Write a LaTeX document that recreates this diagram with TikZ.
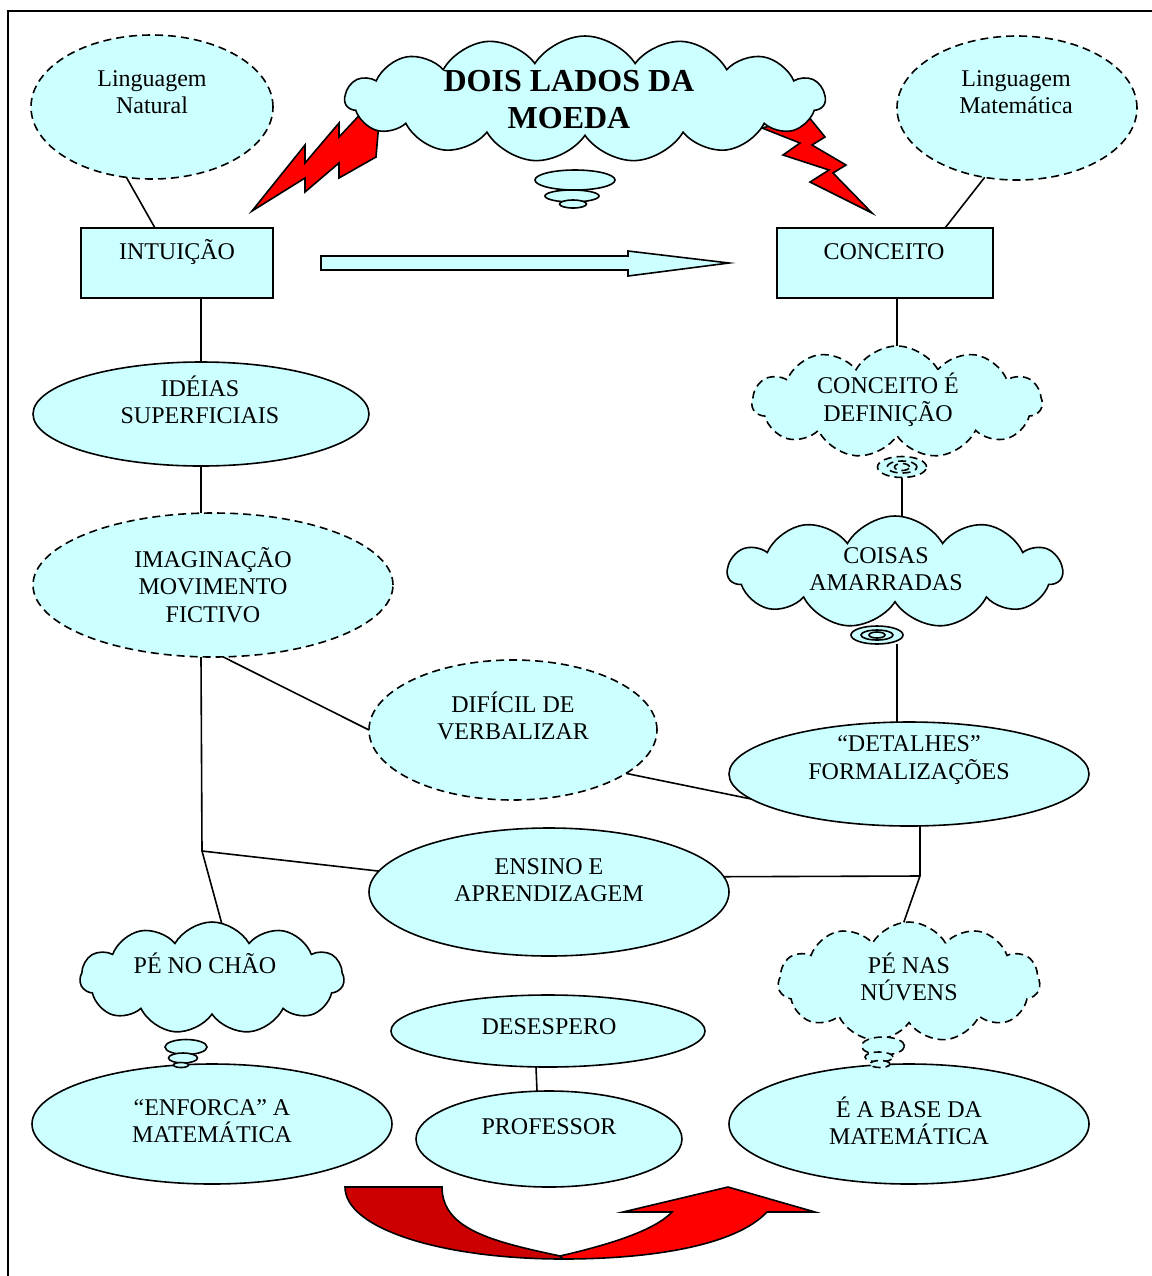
\documentclass[tikz,border=0pt]{standalone}
\usepackage{fontspec}
\setmainfont{Liberation Serif}
\usetikzlibrary{shapes.geometric,shapes.symbols}
\definecolor{cianoclaro}{HTML}{CCFFFF}
\definecolor{vermelhoescuro}{HTML}{CC0000}
\tikzset{
  fundo/.style={fill=cianoclaro, draw=black, line width=0.8pt},
  elipse/.style={fundo, ellipse, inner sep=0pt, outer sep=0pt},
  caixa/.style={fundo, rectangle, inner sep=0pt, outer sep=0pt},
  nuvem/.style={fundo, cloud, cloud puffs=11, cloud puff arc=120, cloud ignores aspect, inner sep=0pt, outer sep=0pt},
  bolha/.style={fundo, ellipse, inner sep=0pt, outer sep=0pt},
  tracejado/.style={dash pattern=on 4pt off 2.5pt},
  texto/.style={align=center, inner sep=0pt, font=\fontsize{12}{13.8}\selectfont},
  ligacao/.style={draw=black, line width=0.8pt},
  raio/.style={fill=red, draw=black, line width=0.8pt, line join=miter}
}
\begin{document}
\begin{tikzpicture}[x=0.5pt,y=-0.5pt]
  \useasboundingbox (0,0) rectangle (1152,1276);
  \draw[line width=1pt] (8,1276) -- (8,11) -- (1152,11);
  % raios
  \draw[raio] (252,211) -- (305,145) -- (305,163) -- (339,123) -- (339,137) -- (368,106) -- (380,110)
    -- (376,157) -- (339,178) -- (339,163) -- (305,192) -- (305,178) -- cycle;
  \draw[raio] (762,128) -- (808,116) -- (825,137) -- (812,145) -- (846,165) -- (833,173) -- (872,213)
    -- (810,182) -- (829,170) -- (783,155) -- (800,143) -- cycle;
  % nuvem do titulo
  \node[nuvem, cloud puffs=15, cloud puff arc=115, minimum width=240pt, minimum height=63pt] (moeda) at (585,99) {};
  \foreach \x/\y/\w/\h [count=\i] in {575/180/40/10, 572/196/27/6, 573/204/13.5/4}
    {\node[bolha, minimum width=\w pt, minimum height=\h pt] (moeda-b\i) at (\x,\y) {};}
  \node[texto, font=\fontsize{16}{18.5}\selectfont\bfseries] (moeda-t) at (569,100) {DOIS LADOS DA\\MOEDA};
  % linguagens
  \node[elipse, tracejado, minimum width=121pt, minimum height=72pt] (natE) at (152,107) {};
  \node[texto] (natE-t) at (152,92) {Linguagem\\Natural};
  \node[elipse, tracejado, minimum width=120pt, minimum height=72pt] (matE) at (1017,108) {};
  \node[texto] (matE-t) at (1016,92) {Linguagem\\Matemática};
  % caixas
  \node[caixa, minimum width=96pt, minimum height=35pt] (intu) at (177,263) {};
  \node[texto] (intu-t) at (177,252) {INTUIÇÃO};
  \node[caixa, minimum width=108pt, minimum height=35pt] (conc) at (885,263) {};
  \node[texto] (conc-t) at (884,252) {CONCEITO};
  \draw[fundo] (321,256) -- (628,256) -- (628,251) -- (729,263) -- (628,276) -- (628,270) -- (321,270) -- cycle;
  % lado esquerdo
  \node[elipse, minimum width=168pt, minimum height=52pt] (ideias) at (201,414) {};
  \node[texto] (ideias-t) at (200,400) {IDÉIAS\\SUPERFICIAIS};
  \node[elipse, tracejado, minimum width=180pt, minimum height=72pt] (imag) at (213,585) {};
  \node[texto] (imag-t) at (213,585) {IMAGINAÇÃO\\MOVIMENTO\\FICTIVO};
  \node[elipse, tracejado, minimum width=144pt, minimum height=70pt] (dific) at (513,730) {};
  \node[texto] (dific-t) at (513,716) {DIFÍCIL DE\\VERBALIZAR};
  % lado direito
  \node[nuvem, tracejado, minimum width=145pt, minimum height=56pt] (defin) at (897,402) {};
  \foreach \w/\h [count=\i] in {24.5/10.5, 15/6, 7.5/3.5}
    {\node[bolha, tracejado, minimum width=\w pt, minimum height=\h pt] (defin-b\i) at (902,467) {};}
  \node[texto] (defin-t) at (888,400) {CONCEITO É\\DEFINIÇÃO};
  \node[nuvem, minimum width=167pt, minimum height=56pt] (coisas) at (895,572) {};
  \foreach \w/\h [count=\i] in {26/9, 16/5, 8/3}
    {\node[bolha, minimum width=\w pt, minimum height=\h pt] (coisas-b\i) at (877,635) {};}
  \node[texto] (coisas-t) at (886,569) {COISAS\\AMARRADAS};
  \node[elipse, minimum width=180pt, minimum height=52pt] (detal) at (909,774) {};
  \node[texto] (detal-t) at (909,760) {“DETALHES”\\FORMALIZAÇÕES};
  % centro
  \node[elipse, minimum width=180pt, minimum height=64pt] (ensino) at (549,892) {};
  \node[texto] (ensino-t) at (549,880) {ENSINO E\\APRENDIZAGEM};
  \node[elipse, minimum width=157pt, minimum height=36pt] (desesp) at (548,1031) {};
  \node[texto] (desesp-t) at (549,1027) {DESESPERO};
  \node[elipse, minimum width=133pt, minimum height=48pt] (profes) at (549,1139) {};
  \node[texto] (profes-t) at (549,1127) {PROFESSOR};
  % base
  \node[elipse, minimum width=180pt, minimum height=60pt] (enforca) at (212,1124) {};
  \node[texto] (enforca-t) at (212,1121) {“ENFORCA” A\\MATEMÁTICA};
  \node[elipse, minimum width=180pt, minimum height=60pt] (base) at (909,1124) {};
  \node[texto] (base-t) at (909,1121) {É A BASE DA\\MATEMÁTICA};
  % pes
  \node[nuvem, minimum width=132pt, minimum height=56pt] (chao) at (212,978) {};
  \foreach \x/\y/\w/\h [count=\i] in {186/1047/21/7.5, 183/1058/14.5/5, 181/1065/7.5/2.5}
    {\node[bolha, minimum width=\w pt, minimum height=\h pt] (chao-b\i) at (\x,\y) {};}
  \node[texto] (chao-t) at (205,963) {PÉ NO CHÃO};
  \node[nuvem, tracejado, minimum width=131pt, minimum height=60pt] (nuvens) at (909,982) {};
  \foreach \x/\y/\w/\h [count=\i] in {883/1046/21.5/9, 879/1057/14/5, 880/1064/10/3.5}
    {\node[bolha, tracejado, minimum width=\w pt, minimum height=\h pt] (nuvens-b\i) at (\x,\y) {};}
  \node[texto] (nuvens-t) at (909,977) {PÉ NAS\\NÚVENS};
  % seta em U
  \draw[fill=vermelhoescuro, line width=0.8pt] (345,1187) -- (442,1187) .. controls (442,1230) and (495,1242) .. (560,1256)
    -- (563,1259) .. controls (443,1259) and (345,1229) .. (345,1187) -- cycle;
  \draw[fill=red, line width=0.8pt] (560,1256) .. controls (612,1244) and (655,1230) .. (672,1212) -- (623,1212) -- (728,1187)
    -- (815,1212) -- (767,1212) .. controls (735,1246) and (650,1259) .. (563,1259) -- cycle;
  % ligacoes
  \coordinate (jL) at (202,851);
  \coordinate (jR) at (920,876);
  \draw[ligacao] (natE.250) -- ([xshift=-11pt]intu.north);
  \draw[ligacao] (matE.245) -- ([xshift=30pt]conc.north);
  \draw[ligacao] (intu.south -| ideias.north) -- (ideias.north);
  \draw[ligacao] (ideias.south) -- (ideias.south |- imag.north);
  \draw[ligacao] (ideias.south |- imag.south) -- (jL);
  \draw[ligacao] (jL) -- (ensino.173);
  \draw[ligacao] (jL) -- (chao.80);
  \draw[ligacao] (imag.278) -- (dific.west);
  \draw[ligacao] (dific.339) -- (detal.189);
  \draw[ligacao] (conc.south -| defin.north) -- (defin.north);
  \draw[ligacao] (defin-b1.south) -- (defin-b1.south |- coisas.north);
  \draw[ligacao] ([xshift=-6pt]detal.north |- coisas-b1.south) -- ([xshift=-6pt]detal.north);
  \draw[ligacao] ([xshift=5.5pt]detal.south) -- (jR);
  \draw[ligacao] (ensino.5) -- (jR);
  \draw[ligacao] (jR) -- (nuvens.95);
  \draw[ligacao] ([xshift=-6pt]desesp.south) -- ([xshift=-6pt]profes.north);
\end{tikzpicture}
\end{document}
